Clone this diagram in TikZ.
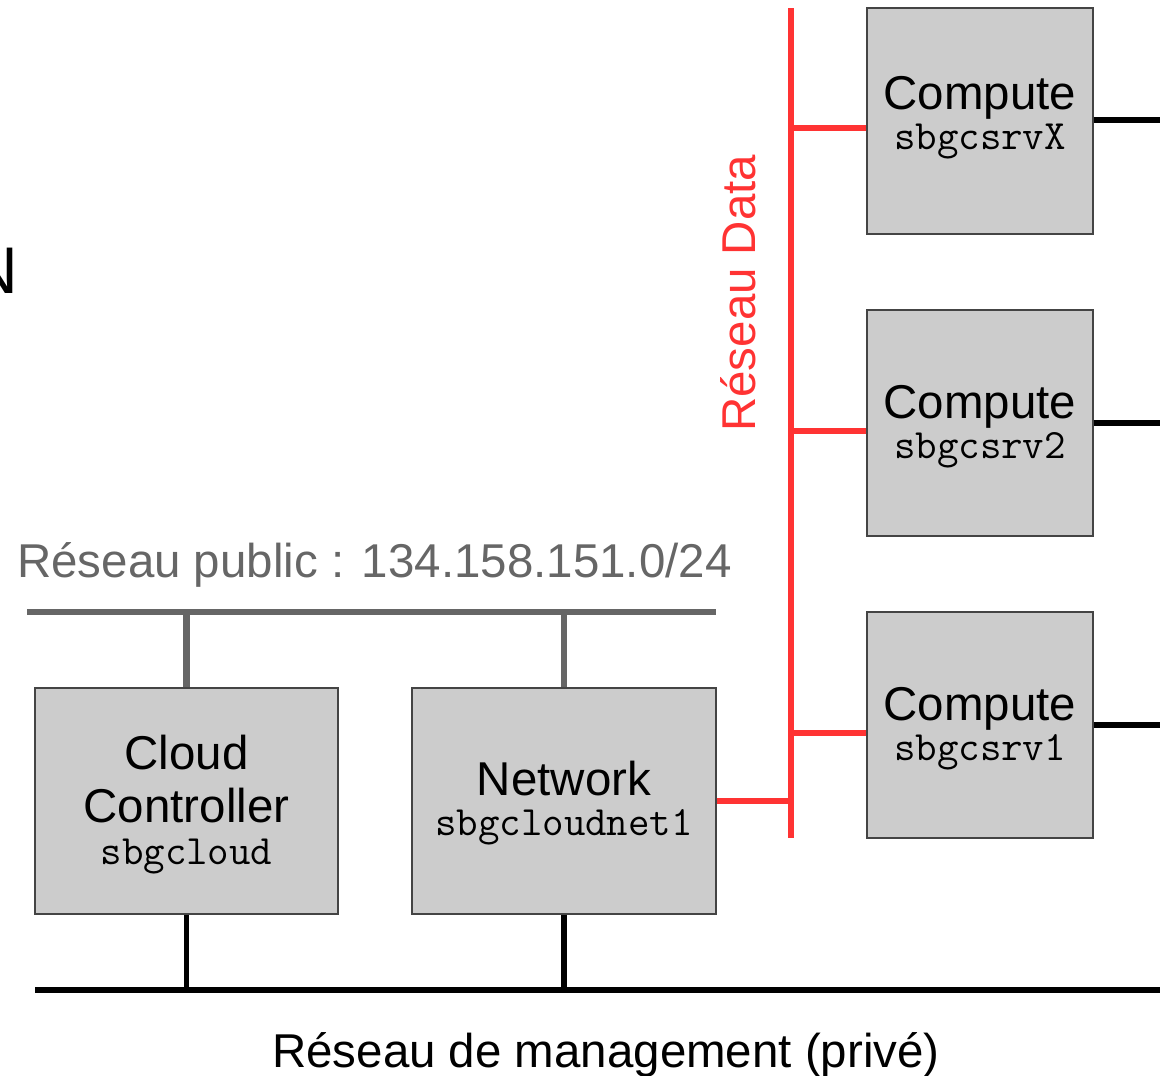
\documentclass[tikz,border=0pt]{standalone}
\usepackage{fontspec}
\setmainfont{Liberation Sans}
\definecolor{netred}{HTML}{FF3333}
\definecolor{pubgray}{HTML}{666666}
\definecolor{boxfill}{HTML}{CCCCCC}
\definecolor{boxline}{HTML}{444444}
\usetikzlibrary{calc}
\begin{document}
\begin{tikzpicture}[x=0.75pt,y=-0.75pt,
  srvbox/.style={draw=boxline, line width=0.8pt, fill=boxfill, inner sep=0pt, minimum height=169.5pt},
  bigtxt/.style={inner sep=0pt, anchor=base, font=\fontsize{35.6}{40}\selectfont},
  montxt/.style={inner sep=0pt, anchor=base, font=\ttfamily\fontsize{31.3}{34}\selectfont},
  redbus/.style={draw=netred, line width=5.2pt},
  pubbus/.style={draw=pubgray, line width=5.2pt},
  mgmtbus/.style={draw=black, line width=5.2pt},
  mgmtlink/.style={draw=black, line width=4pt},
  outlink/.style={draw=black, line width=4.5pt}
]
\useasboundingbox (0,0) rectangle (1160,1075);

% boxes
\node[srvbox, minimum width=169.5pt] (cX) at (980,121) {};
\node[srvbox, minimum width=169.5pt] (c2) at (980,423) {};
\node[srvbox, minimum width=169.5pt] (c1) at (980,725) {};
\node[srvbox, minimum width=227.25pt] (cc) at (186.5,801) {};
\node[srvbox, minimum width=228pt] (net) at (564,801) {};

% coordinates
\coordinate (datatop) at (791,8);
\coordinate (databot) at (791,838);
\coordinate (bX) at (791,128);
\coordinate (b2) at (791,431);
\coordinate (b1) at (791,733);
\coordinate (oX) at (1160,120);
\coordinate (o2) at (1160,423);
\coordinate (o1) at (1160,725);
\coordinate (publ) at (27,612);
\coordinate (pubr) at (716,612);
\coordinate (mgl) at (35,990);
\coordinate (mgr) at (1160,990);

% data network
\draw[redbus] (datatop) -- (databot);
\draw[redbus] (cX.west |- bX) -- (bX);
\draw[redbus] (c2.west |- b2) -- (b2);
\draw[redbus] (c1.west |- b1) -- (b1);
\draw[redbus] (net.east) -- (net.east -| datatop);

% compute outgoing links
\draw[outlink] (cX.east |- oX) -- (oX);
\draw[outlink] (c2.east |- o2) -- (o2);
\draw[outlink] (c1.east |- o1) -- (o1);

% public network
\draw[pubbus] (publ) -- (pubr);
\draw[pubbus] (cc.north) -- (cc.north |- publ);
\draw[pubbus] (net.north) -- (net.north |- publ);

% management network
\draw[mgmtbus] (mgl) -- (mgr);
\draw[mgmtlink] (cc.south) -- (cc.south |- mgl);
\draw[mgmtlink] (net.south) -- (net.south |- mgl);

% labels
\node[bigtxt] (tX) at (980,109) {Compute};
\node[montxt] (mX) at (980,149) {sbgcsrvX};
\node[bigtxt] (t2) at (980,418) {Compute};
\node[montxt] (m2) at (980,458) {sbgcsrv2};
\node[bigtxt] (t1) at (980,720) {Compute};
\node[montxt] (m1) at (980,760) {sbgcsrv1};

\node[bigtxt] (tcc1) at (186.5,769) {Cloud};
\node[bigtxt] (tcc2) at (186.5,822) {Controller};
\node[montxt] (mcc) at (186.5,864) {sbgcloud};

\node[bigtxt] (tnet) at (564,795) {Network};
\node[montxt] (mnet) at (564,835) {sbgcloudnet1};

\node[bigtxt, anchor=base west, text=pubgray] (tpub) at (17,577) {Réseau public : 134.158.151.0/24};
\node[bigtxt] (tmg) at (606,1067) {Réseau de management (privé)};
\node[bigtxt, anchor=base west, rotate=90, text=netred] (tdata) at (755,432) {Réseau Data};
\node[inner sep=0pt, anchor=base east, font=\fontsize{49.5}{55}\selectfont] (tN) at (18,293) {N};
\end{tikzpicture}
\end{document}
